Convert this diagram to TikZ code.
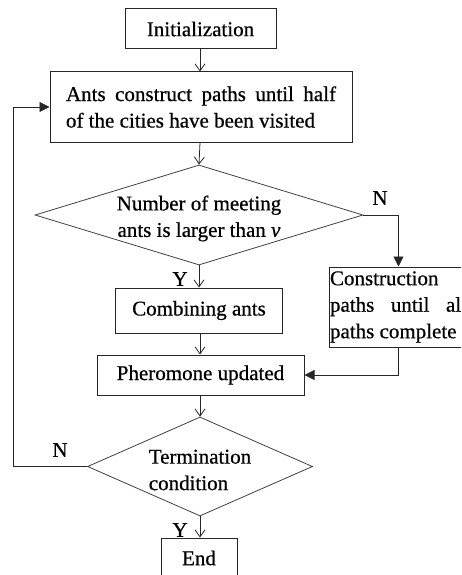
\documentclass[tikz,border=0pt]{standalone}
\usepackage{fontspec}
\setmainfont{Liberation Serif}[FakeBold=0.6]
\newfontfamily\chartfont{Liberation Serif}[FakeBold=0.6]
\usetikzlibrary{arrows.meta,shapes.geometric,positioning}

\begin{document}
\begin{tikzpicture}
[x=1pt,y=-1pt,
font=\chartfont\fontsize{21}{26.5}\selectfont,
process/.style={rectangle,draw=black!85,line width=1pt,inner sep=0pt},
decision/.style={diamond,draw=black!75,line width=0.8pt,inner sep=0pt},
flow/.style={-{Straight Barb[length=7pt,width=10pt]},line width=0.8pt,draw=black!85},
side/.style={-{Triangle[length=10pt,width=10pt]},line width=0.8pt,draw=black!85},
tag/.style={inner sep=0pt}]
\useasboundingbox (0,0) rectangle (461,575);
\clip (0,0) rectangle (461,575);
% main column
\node[process,minimum width=151,minimum height=40] (init) at (200.5,29) {Initialization};
\node[process,minimum width=302,minimum height=70,text width=270,align=justify] (ants) at (201,107)
{Ants construct paths until half\linebreak of the cities have been visited};
\node[decision,minimum width=328,minimum height=100,
label={[align=center,yshift=-3.5pt]center:Number of meeting\\ants is larger than \textit{v}}] (meet) at (199,215) {};
\node[process,minimum width=167,minimum height=45] (comb) at (199,310.5) {Combining ants};
\node[process,minimum width=207,minimum height=40] (pher) at (200.5,375) {Pheromone updated};
\node[decision,minimum width=225,minimum height=99,
label={[align=left,yshift=-3.5pt]center:Termination\\condition}] (term) at (200,466.5) {};
\node[process,minimum width=76,minimum height=40] (end) at (199,558) {End};
% side branch
\node[process,minimum width=139,minimum height=80,text width=137,inner xsep=1pt,align=justify] (constr) at (398.5,307)
{Construction\\paths until all paths complete};
\coordinate (loop) at (13,0);
% connectors
\draw[flow] (init.south -| 200,0) -- (ants.north -| 200,0);
\draw[flow] (ants.south -| 200,0) -- (meet.north);
\draw[flow] (meet.south) -- (comb.north -| meet.south);
\draw[flow] (comb.south -| 200,0) -- (pher.north -| 200,0);
\draw[flow] (pher.south -| term.north) -- (term.north);
\draw[flow] (term.south) -- (end.north -| term.south);
\draw[side] (meet.east) -| (constr.north);
\draw[side] (constr.south) |- (pher.east);
\draw[side] (term.west) -- (term.west -| loop) |- (ants.west);
% branch labels
\node[tag] (yes1) at (180,279) {Y};
\node[tag] (no1) at (380,198) {N};
\node[tag] (no2) at (60,450) {N};
\node[tag] (yes2) at (180,530) {Y};
\end{tikzpicture}
\end{document}
